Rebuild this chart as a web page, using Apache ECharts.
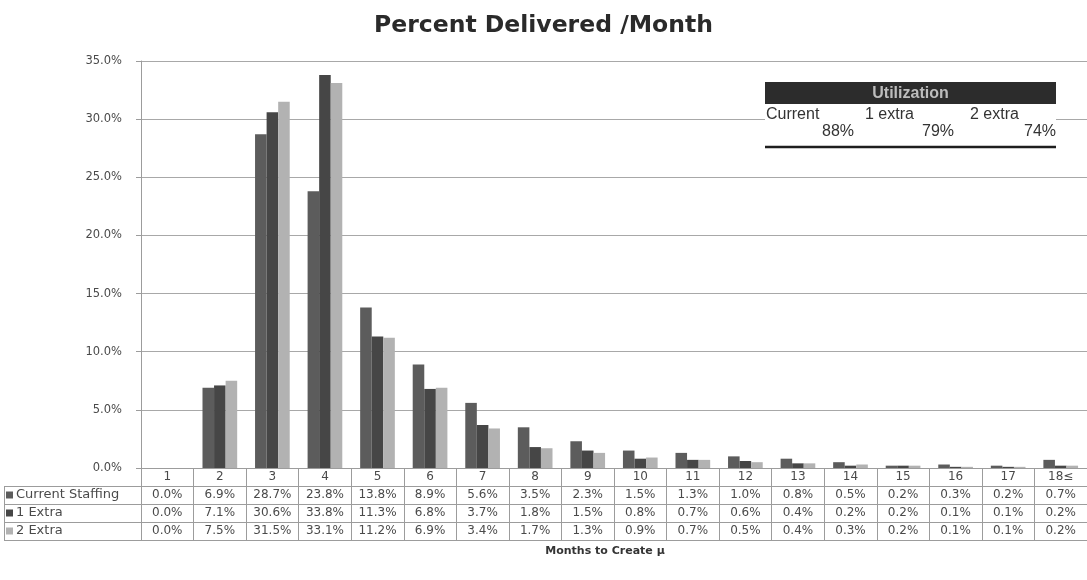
<!DOCTYPE html>
<html>
<head>
<meta charset="utf-8">
<script src="https://cdn.jsdelivr.net/npm/echarts@6/dist/echarts.min.js"></script>
<style>
  html, body { margin: 0; padding: 0; background: #ffffff; }
  #chart { width: 1087px; height: 580px; }
</style>
</head>
<body>
<div id="chart"></div>
<script>
// Months to create, one column per month (last bucket is 18 and over)
const categories = ['1', '2', '3', '4', '5', '6', '7', '8', '9', '10', '11', '12', '13', '14', '15', '16', '17', '18≤'];
const seriesNames = ['Current Staffing', '1 Extra', '2 Extra'];

// Percent delivered per month for each staffing level
const currentStaffing = [0.0, 6.9, 28.7, 23.8, 13.8, 8.9, 5.6, 3.5, 2.3, 1.5, 1.3, 1.0, 0.8, 0.5, 0.2, 0.3, 0.2, 0.7];
const oneExtra        = [0.0, 7.1, 30.6, 33.8, 11.3, 6.8, 3.7, 1.8, 1.5, 0.8, 0.7, 0.6, 0.4, 0.2, 0.2, 0.1, 0.1, 0.2];
const twoExtra        = [0.0, 7.5, 31.5, 33.1, 11.2, 6.9, 3.4, 1.7, 1.3, 0.9, 0.7, 0.5, 0.4, 0.3, 0.2, 0.1, 0.1, 0.2];

// Value axis range
const yMin = 0, yMax = 35, yStep = 5;

// Utilization summary
const utilTitle = 'Utilization';
const utilLabels = ['Current', '1 extra', '2 extra'];
const utilValues = ['88%', '79%', '74%'];

const seriesData = [currentStaffing, oneExtra, twoExtra];
const seriesColors = ['#5c5c5c', '#464646', '#b2b2b2'];

// layout
const W = 1087, H = 580;
const GRID_LEFT = 141, GRID_TOP = 61, GRID_BOTTOM = 112, GRID_WIDTH = 950;
const ROW = 18;
const AXIS_Y = H - GRID_BOTTOM;
const LINE_COLOR = '#9c9c9c';
const TABLE_FONT = 'DejaVu Sans';

const fmt = v => v.toFixed(1) + '%';

// One category axis per table row: the header row holds the month,
// the following rows hold the values of each series.
const tableAxis = (offset, data, showLabel) => ({
  type: 'category',
  gridIndex: 0,
  position: 'bottom',
  offset: offset,
  data: data,
  boundaryGap: true,
  axisLine: { show: true, lineStyle: { color: LINE_COLOR, width: 1 } },
  axisTick: { show: showLabel, length: ROW, lineStyle: { color: LINE_COLOR, width: 1 } },
  axisLabel: {
    show: showLabel, interval: 0, margin: 3,
    fontFamily: TABLE_FONT, fontSize: 12, color: '#4a4a4a'
  },
  splitLine: { show: false }
});

const xAxes = [tableAxis(0, categories, true)];
seriesData.forEach((arr, i) => xAxes.push(tableAxis(ROW * (i + 1), arr.map(fmt), true)));
xAxes.push(tableAxis(ROW * 4, categories.map(() => ''), false));

// Left column borders of the data table
const tableTop = AXIS_Y + ROW;
const tableBottom = AXIS_Y + ROW * 4;
const legendBorders = [];
for (let r = 0; r < 4; r++) {
  legendBorders.push({
    type: 'line',
    shape: { x1: 4, y1: tableTop + r * ROW + 0.5, x2: GRID_LEFT, y2: tableTop + r * ROW + 0.5 },
    style: { stroke: LINE_COLOR, lineWidth: 1 },
    silent: true
  });
}
legendBorders.push({
  type: 'line',
  shape: { x1: 4.5, y1: tableTop, x2: 4.5, y2: tableBottom },
  style: { stroke: LINE_COLOR, lineWidth: 1 },
  silent: true
});

// Utilization box
const UX = 765, UY = 82, UW = 291;
const utilColLeft = [UX + 1, UX + 100, UX + 205];
const utilColRight = [UX + 89, UX + 189, UX + UW];
const utilBox = [
  { type: 'rect', shape: { x: UX, y: UY, width: UW, height: 66 }, style: { fill: '#ffffff' }, z: 10 },
  { type: 'rect', shape: { x: UX, y: UY, width: UW, height: 22 }, style: { fill: '#2c2c2c' }, z: 11 },
  {
    type: 'text', x: UX + UW / 2, y: UY + 12, z: 12,
    style: { text: utilTitle, fill: '#bdbdbd', font: 'bold 16px "Liberation Sans"', align: 'center', verticalAlign: 'middle' }
  },
  { type: 'line', shape: { x1: UX, y1: UY + 65, x2: UX + UW, y2: UY + 65 }, style: { stroke: '#1e1e1e', lineWidth: 2.5 }, z: 11 }
];
utilLabels.forEach((t, i) => utilBox.push({
  type: 'text', x: utilColLeft[i], y: UY + 33, z: 12,
  style: { text: t, fill: '#333', font: '16px "Liberation Sans"', align: 'left', verticalAlign: 'middle' }
}));
utilValues.forEach((t, i) => utilBox.push({
  type: 'text', x: utilColRight[i], y: UY + 50, z: 12,
  style: { text: t, fill: '#333', font: '16px "Liberation Sans"', align: 'right', verticalAlign: 'middle' }
}));

const chart = echarts.init(document.getElementById('chart'), null, { renderer: 'canvas' });

chart.setOption({
  backgroundColor: '#ffffff',
  animation: false,
  title: [
    {
      text: 'Percent Delivered /Month',
      left: 'center', top: 9,
      textStyle: { fontFamily: 'DejaVu Sans', fontWeight: 'bold', fontSize: 23.5, color: '#2a2a2a' }
    },
    {
      text: 'Months to Create μ',
      left: 600, top: AXIS_Y + ROW * 4 + 1,
      textAlign: 'center',
      textStyle: { fontFamily: 'DejaVu Sans', fontWeight: 'bold', fontSize: 11, color: '#333' }
    }
  ],
  legend: {
    orient: 'vertical',
    left: 6, top: tableTop,
    padding: 0, itemGap: 0,
    itemWidth: 7, itemHeight: 7,
    icon: 'rect',
    data: seriesNames,
    textStyle: { fontFamily: TABLE_FONT, fontSize: 13, color: '#4a4a4a', lineHeight: ROW, padding: [0, 0, 0, -2] },
    selectedMode: false
  },
  grid: { left: GRID_LEFT, top: GRID_TOP, width: GRID_WIDTH, bottom: GRID_BOTTOM, containLabel: false },
  xAxis: xAxes,
  yAxis: {
    type: 'value',
    min: yMin, max: yMax, interval: yStep,
    axisLine: { show: true, lineStyle: { color: LINE_COLOR } },
    axisTick: { show: true, length: 5, lineStyle: { color: LINE_COLOR } },
    axisLabel: { formatter: v => v.toFixed(1) + '%', fontFamily: 'DejaVu Sans', fontSize: 11.5, color: '#4a4a4a', margin: 19 },
    splitLine: { show: true, lineStyle: { color: '#a8a8a8', width: 1 } }
  },
  series: seriesData.map((arr, i) => ({
    name: seriesNames[i],
    type: 'bar',
    xAxisIndex: 0,
    data: arr,
    barGap: '0%',
    barCategoryGap: '34%',
    itemStyle: { color: seriesColors[i] }
  })),
  graphic: legendBorders.concat(utilBox)
});
</script>
</body>
</html>
